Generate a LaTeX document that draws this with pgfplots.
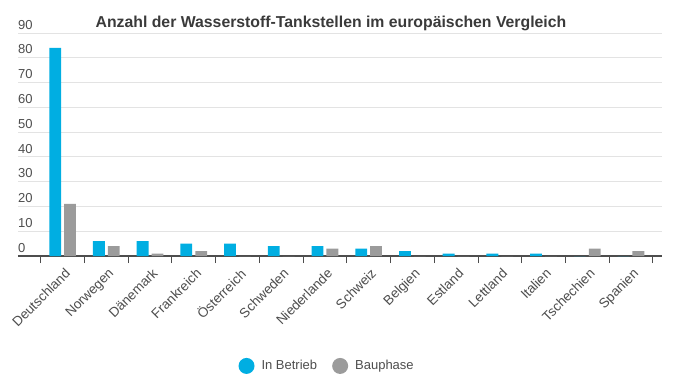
\documentclass[border=0pt]{standalone}
\usepackage{fontspec}
\setmainfont{Liberation Sans}
\usepackage{pgfplots}
\pgfplotsset{compat=1.18}
\definecolor{cblue}{HTML}{00AEE2}
\definecolor{cgray}{HTML}{9B9B9B}
\definecolor{ctext}{HTML}{4D4D4D}
\definecolor{ctitle}{HTML}{3A3A3A}
\definecolor{cgrid}{HTML}{E3E3E3}
\begin{document}
\begin{tikzpicture}
\useasboundingbox (0,0) rectangle (678pt,381pt);
\begin{axis}[
  at={(18pt,125pt)}, anchor=south west,
  scale only axis, width=644pt, height=223pt,
  xmin=-1.02, xmax=13.71, ymin=0, ymax=90,
  ytick={0,10,...,90},
  axis x line*=bottom, axis y line*=left,
  y axis line style={draw=none},
  x axis line style={-, draw=ctext, line width=1.2pt},
  ymajorgrids, grid style={cgrid, line width=0.8pt},
  major tick length=0pt,
  xtick={0,...,13},
  xticklabels={Deutschland,Norwegen,Dänemark,Frankreich,Österreich,Schweden,Niederlande,Schweiz,Belgien,Estland,Lettland,Italien,Tschechien,Spanien},
  minor xtick={-0.5,0.5,...,13.5},
  minor tick length=7pt,
  minor tick style={draw=ctext, line width=0.8pt},
  tick align=outside,
  x tick label style={rotate=45, anchor=north east, font=\fontsize{13.5}{15}\selectfont, text=ctext, inner sep=1pt, xshift=-6pt, yshift=-8pt},
  y tick label style={anchor=south west, inner sep=0pt, yshift=3.5pt, font=\fontsize{13}{15}\selectfont, text=ctext},
  /pgf/number format/assume math mode=true,
  ybar, bar width=0.27,
  title={Anzahl der Wasserstoff-Tankstellen im europäischen Vergleich},
  title style={at={(0.486,1)}, anchor=base, yshift=0pt, font=\bfseries\fontsize{15.8}{18}\selectfont, text=ctitle},
  legend style={at={(0.48,-0.493)}, anchor=center, draw=none, fill=none, legend columns=-1,
    font=\fontsize{13}{15}\selectfont, text=ctext,
    /tikz/every odd column/.append style={column sep=5pt},
    /tikz/every even column/.append style={column sep=13pt}},
]
\addplot[fill=cblue, draw=none, bar shift=-0.17,
  legend image code/.code={\fill[cblue] (0pt,0pt) circle (8pt);}]
  coordinates {(0,84) (1,6) (2,6) (3,5) (4,5) (5,4) (6,4) (7,3) (8,2) (9,1) (10,1) (11,1) (12,0) (13,0)};
\addlegendentry{In Betrieb}
\addplot[fill=cgray, draw=none, bar shift=0.17,
  legend image code/.code={\fill[cgray] (0pt,0pt) circle (8pt);}]
  coordinates {(0,21) (1,4) (2,1) (3,2) (4,0) (5,0) (6,3) (7,4) (8,0) (9,0) (10,0) (11,0) (12,3) (13,2)};
\addlegendentry{Bauphase}
\end{axis}
\end{tikzpicture}
\end{document}
